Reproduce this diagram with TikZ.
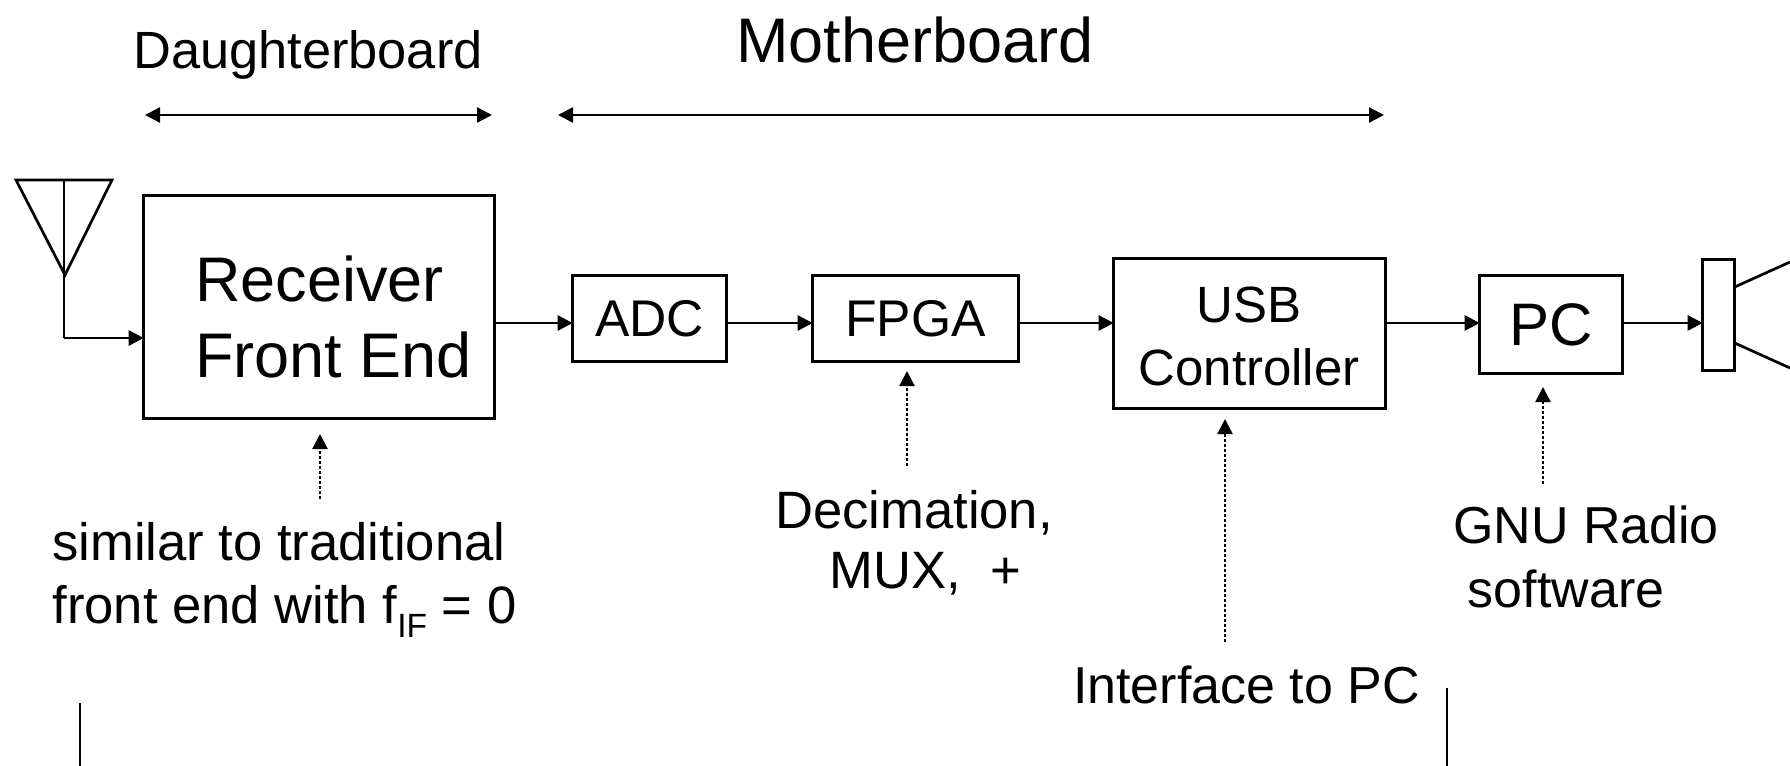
\documentclass[tikz,border=0pt]{standalone}
\usepackage{fontspec}
\setmainfont{Liberation Sans}
\usetikzlibrary{arrows.meta}
\tikzset{
  x=0.5pt,y=-0.5pt,
  wire/.style={line width=1.35pt,draw=black,-{Triangle[length=7.5pt,width=7.5pt]}},
  plain/.style={line width=1.35pt,draw=black},
  dbl/.style={line width=1.2pt,draw=black,{Triangle[length=7.5pt,width=7.5pt]}-{Triangle[length=7.5pt,width=7.5pt]}},
  dots/.style={line width=1.15pt,draw=black,dash pattern=on 1.3pt off 1.2pt,-{Triangle[length=7.5pt,width=7.5pt]}},
  blockbox/.style={draw=black,line width=1.35pt,inner sep=0pt,outer sep=0pt,align=center,anchor=north west},
  lbl/.style={inner sep=0pt,anchor=base,text=black},
  lblw/.style={inner sep=0pt,anchor=base west,text=black},
  edge/.style={line width=1pt,draw=black},
}
\newcommand{\fs}[1]{\fontsize{#1}{#1}\selectfont}
\begin{document}
\begin{tikzpicture}
\useasboundingbox (0,0) rectangle (1790,766);
\fill[white] (0,0) rectangle (1790,766);
% blocks
\node[blockbox,minimum width=175.5pt,minimum height=111.5pt] (rx) at (143.7,195.5) {};
\node[lblw,font=\fs{31.5}] (rxl) at (195,301) {Receiver};
\node[lblw,font=\fs{31.5}] (rxm) at (195,377) {Front End};
\node[blockbox,minimum width=77pt,minimum height=43pt,font=\fs{25.8}] (adc) at (572.7,275.5) {ADC};
\node[blockbox,minimum width=103pt,minimum height=43pt,font=\fs{25.8}] (fpga) at (812.7,275.5) {FPGA};
\node[blockbox,minimum width=136pt,minimum height=75pt] (usb) at (1113.7,258.5) {};
\node[lbl,font=\fs{25.5}] (usbl) at (1249,322) {USB};
\node[lbl,font=\fs{25.5}] (usbm) at (1249,385) {Controller};
\node[blockbox,minimum width=71.5pt,minimum height=49pt,font=\fs{30}] (pc) at (1479.7,275.5) {PC};
\node[blockbox,minimum width=16pt,minimum height=55.5pt] (spk) at (1702.7,259.5) {};
% antenna
\coordinate (ta) at (16,180);
\coordinate (tb) at (112,180);
\coordinate (tc) at (65,275);
\coordinate (st) at (64,180);
\coordinate (bend) at (64,338);
\draw[plain,line join=miter] (ta) -- (tb) -- (tc) -- cycle;
\draw[plain] (st) -- (bend);
\draw[wire] (bend) -- (bend -| rx.west);
% chain
\draw[wire] (rx.east |- 0,323) -- (adc.west |- 0,323);
\draw[wire] (adc.east |- 0,323) -- (fpga.west |- 0,323);
\draw[wire] (fpga.east |- 0,323) -- (usb.west |- 0,323);
\draw[wire] (usb.east |- 0,323) -- (pc.west |- 0,323);
\draw[wire] (pc.east |- 0,323) -- (spk.west |- 0,323);
% speaker cone
\coordinate (c1) at (1790,262);
\coordinate (c2) at (1790,368);
\draw[plain] (spk.east |- 0,287) -- (c1);
\draw[plain] (spk.east |- 0,343) -- (c2);
% brackets
\coordinate (d1) at (145,115);
\coordinate (d2) at (492,115);
\coordinate (m1) at (558,115);
\coordinate (m2) at (1384,115);
\draw[dbl] (d1) -- (d2);
\draw[dbl] (m1) -- (m2);
\node[lbl,font=\fs{26.2}] (dbt) at (308,68) {Daughterboard};
\node[lbl,font=\fs{31.5}] (mbt) at (915,62) {Motherboard};
% notes
\node[lblw,font=\fs{26.3}] (n1) at (52,560) {similar to traditional};
\node[lblw,font=\fs{26.3}] (n2) at (52,623) {front end with f\raisebox{-7pt}{\fs{16.8}IF} = 0};
\node[lbl,font=\fs{26.3}] (n3) at (914,528) {Decimation,};
\node[lblw,font=\fs{26.3}] (n4) at (829,588) {MUX,\ \ +};
\node[lbl,font=\fs{26}] (n5) at (1246.5,703) {Interface to PC};
\node[lbl,font=\fs{26}] (n6) at (1586,543) {GNU Radio};
\node[lbl,font=\fs{26}] (n7) at (1566,607) {software};
\coordinate (a1) at (320,499);
\coordinate (a1t) at (320,434);
\coordinate (a2) at (907,466);
\coordinate (a2t) at (907,371);
\coordinate (a3) at (1225,642);
\coordinate (a3t) at (1225,419);
\coordinate (a4) at (1543,484);
\coordinate (a4t) at (1543,387);
\draw[dots] (a1) -- (a1t);
\draw[dots] (a2) -- (a2t);
\draw[dots] (a3) -- (a3t);
\draw[dots] (a4) -- (a4t);
% bottom lines
\coordinate (b1) at (80,703);
\coordinate (b1e) at (80,766);
\coordinate (b2) at (1447,688);
\coordinate (b2e) at (1447,766);
\draw[edge] (b1) -- (b1e);
\draw[edge] (b2) -- (b2e);
\end{tikzpicture}
\end{document}
